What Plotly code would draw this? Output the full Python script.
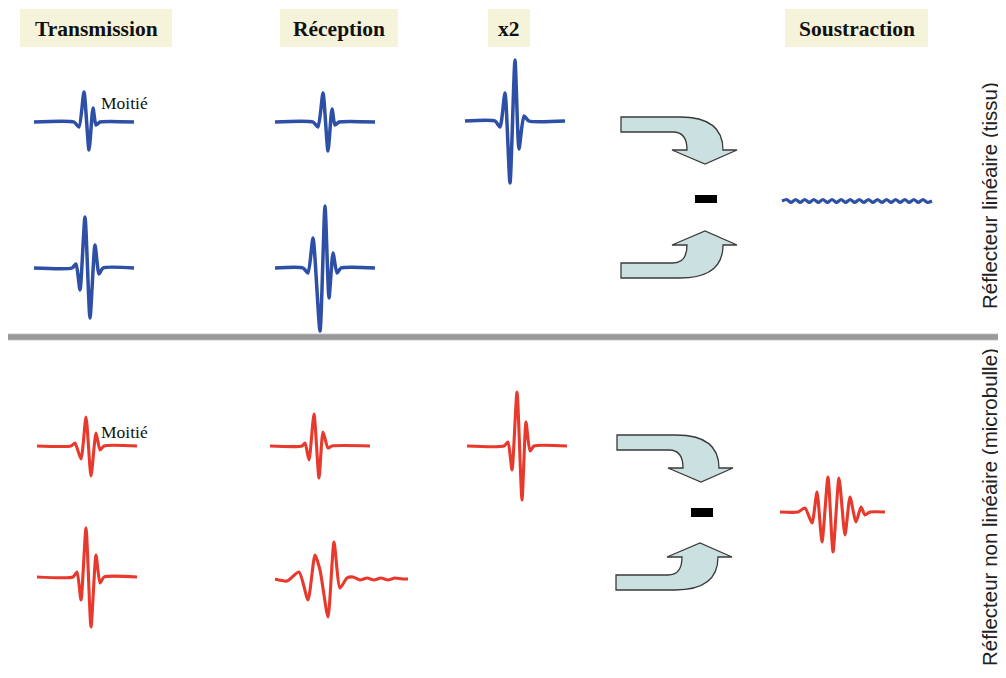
import plotly.graph_objects as go

# ---- waveform shapes: dx (px from pulse centre), amp (px, + = up) ----
# blue = linear reflector (tissue), red = non-linear reflector (microbubble)
BLUE_TX_HALF_DX = [-52, -12, -7, -2, 3, 7, 10, 14, 48]
BLUE_TX_HALF_AMP = [0, 0, -5, 30, -28, 14, -3, 0, 0]

BLUE_TX_FULL_DX = [-52, -14, -10, -6, -1, 4, 9, 13, 17, 48]
BLUE_TX_FULL_AMP = [0, 0, 4, -22, 51, -50, 23, -6, 0, 0]

BLUE_RX_HALF_DX = [-50, -12, -7, -2, 3, 7, 10, 14, 50]
BLUE_RX_HALF_AMP = [0, 0, -5, 29, -29, 13, -3, 0, 0]

BLUE_RX_FULL_DX = [-50, -22, -17, -12, -5, 0, 4, 8, 12, 16, 50]
BLUE_RX_FULL_AMP = [0, 0, -5, 30, -63, 62, -30, 15, -5, 0, 0]

BLUE_X2_DX = [-50, -20, -15, -10, -5, 0, 4, 9, 14, 50]
BLUE_X2_AMP = [0, 0, -6, 28, -62, 61, -28, 5, 0, 0]

BLUE_SUB_AMP = [0, 1.5, -1.5, 1.5, -1.5, 1.5, -1.5, 1.5, -1.5, 1.5, -1.5, 1.5,
                -1.5, 1.5, -1.5, 1.5, -1.5, 1.5, -1.5, 1.5, -1.5, 1.5, -1.5,
                1.5, -1.5, 1.5, -1.5, 1.5, -1.5, 1.5, -1.5, 1.5, -1.5, 0]

RED_TX_HALF_DX = [-50, -16, -12, -6, -1, 4, 9, 13, 17, 50]
RED_TX_HALF_AMP = [0, 0, 3, -13, 29, -30, 13, -4, 0, 0]

RED_TX_FULL_DX = [-50, -14, -10, -6, -1, 4, 9, 13, 17, 50]
RED_TX_FULL_AMP = [0, 0, 5, -23, 49, -50, 22, -6, 0, 0]

RED_RX_HALF_DX = [-50, -18, -15, -11, -6, -1, 3, 8, 12, 50]
RED_RX_HALF_AMP = [0, 0, 3, -14, 32, -32, 14, -2, 0, 0]

RED_RX_DIST_DX = [0, 12, 24, 33, 40, 45, 53, 59, 65, 72, 78, 85, 92, 99, 106, 113, 120, 127, 133]
RED_RX_DIST_AMP = [0, -2, 7, -21, 24, 9, -38, 37, -9, 1, 2, -1, 1, -1, 1, -1, 1, 0, 0]

RED_X2_DX = [-50, -13, -9, -5, 0, 5, 9, 13, 17, 50]
RED_X2_AMP = [0, 0, 4, -24, 54, -54, 24, -5, 0, 0]

RED_SUB_DX = [0, 18, 25, 32, 37, 42, 48, 53, 59, 65, 70, 76, 81, 85, 90, 105]
RED_SUB_AMP = [0, 0, 4, -11, 20, -30, 35, -40, 34, -23, 15, -10, 5, -3, 0, 0]

HEADERS = ["Transmission", "Réception", "x2", "Soustraction"]
SIDE_LABELS = ["Réflecteur linéaire (tissu)", "Réflecteur non linéaire (microbulle)"]
HALF_LABEL = "Moitié"

BLUE = "#2d4fa6"
RED = "#e8392d"
PAGE_MARGIN = 8  # default <body> margin of the html page

fig = go.Figure()


def wave(dx, amp, cx, base, color, width):
    fig.add_trace(go.Scatter(
        x=[cx + d for d in dx], y=[base - a for a in amp], mode="lines",
        line=dict(color=color, width=width, shape="spline", smoothing=0.6),
        hoverinfo="skip", showlegend=False))


# blue block
wave(BLUE_TX_HALF_DX, BLUE_TX_HALF_AMP, 86, 122, BLUE, 3.5)
wave(BLUE_RX_HALF_DX, BLUE_RX_HALF_AMP, 325, 122, BLUE, 3.5)
wave(BLUE_X2_DX, BLUE_X2_AMP, 515, 121, BLUE, 3.5)
wave(BLUE_TX_FULL_DX, BLUE_TX_FULL_AMP, 86, 268, BLUE, 3.5)
wave(BLUE_RX_FULL_DX, BLUE_RX_FULL_AMP, 325, 268, BLUE, 3.5)
n = len(BLUE_SUB_AMP)
wave([i * 150 / (n - 1) for i in range(n)], BLUE_SUB_AMP, 782, 201, BLUE, 3.2)

# red block
wave(RED_TX_HALF_DX, RED_TX_HALF_AMP, 87, 446, RED, 3.1)
wave(RED_RX_HALF_DX, RED_RX_HALF_AMP, 320, 446, RED, 3.1)
wave(RED_X2_DX, RED_X2_AMP, 517, 446, RED, 3.1)
wave(RED_TX_FULL_DX, RED_TX_FULL_AMP, 87, 577, RED, 3.1)
wave(RED_RX_DIST_DX, RED_RX_DIST_AMP, 275, 579, RED, 3.1)
wave(RED_SUB_DX, RED_SUB_AMP, 780, 512, RED, 3.1)

shapes = []


def arrow(x0, y0, down):
    s = 1 if down else -1
    p = (f"M {x0},{y0} L {x0 + 59},{y0} Q {x0 + 102},{y0} {x0 + 102},{y0 + s * 33} "
         f"L {x0 + 116},{y0 + s * 33} L {x0 + 84},{y0 + s * 47} L {x0 + 51},{y0 + s * 33} "
         f"L {x0 + 66},{y0 + s * 33} Q {x0 + 66},{y0 + s * 15} {x0 + 52},{y0 + s * 15} "
         f"L {x0},{y0 + s * 15} Z")
    shapes.append(dict(type="path", path=p, xref="x", yref="y",
                       fillcolor="#cbe0e0", line=dict(color="#3a3a3a", width=1.3)))


arrow(621, 117, True)
arrow(621, 278, False)
arrow(617, 435, True)
arrow(616, 590, False)

# minus signs
shapes.append(dict(type="rect", x0=695, x1=717, y0=195, y1=203, xref="x", yref="y",
                   fillcolor="black", line=dict(width=0)))
shapes.append(dict(type="rect", x0=691, x1=713, y0=508, y1=517, xref="x", yref="y",
                   fillcolor="black", line=dict(width=0)))

# separator
shapes.append(dict(type="rect", x0=5, x1=1010, y0=334, y1=340, xref="x", yref="y",
                   fillcolor="#999999", line=dict(color="#bdbdbd", width=0.8)))

# header boxes
boxes = [(20, 172), (280, 398), (488, 530), (785, 928)]
annotations = []
for (bx0, bx1), lab in zip(boxes, HEADERS):
    shapes.append(dict(type="rect", x0=bx0, x1=bx1, y0=9, y1=47, xref="x", yref="y",
                       fillcolor="#f6f3db", line=dict(width=0), layer="below"))
    annotations.append(dict(x=(bx0 + bx1) / 2, y=29, xref="x", yref="y", text=f"<b>{lab}</b>",
                            showarrow=False, font=dict(family="Liberation Serif", size=21.5,
                                                       color="#111111")))

for yy in (103, 432):
    annotations.append(dict(x=99, y=yy, xref="x", yref="y", text=HALF_LABEL, showarrow=False,
                            xanchor="left", font=dict(family="Liberation Serif", size=17.5,
                                                      color="#111111")))

for yy, lab in zip((196, 507), SIDE_LABELS):
    annotations.append(dict(x=989, y=yy, xref="x", yref="y", text=lab, showarrow=False,
                            textangle=-90, font=dict(family="Liberation Sans", size=20.5,
                                                     color="#222222")))

W, H = 1006, 678
fig.update_layout(
    width=W - PAGE_MARGIN, height=H - PAGE_MARGIN, margin=dict(l=0, r=0, t=0, b=0),
    paper_bgcolor="white", plot_bgcolor="white",
    xaxis=dict(range=[PAGE_MARGIN, W], visible=False, fixedrange=True),
    yaxis=dict(range=[H, PAGE_MARGIN], visible=False, fixedrange=True),
    shapes=shapes, annotations=annotations, showlegend=False,
)

fig.write_html("out.html")
